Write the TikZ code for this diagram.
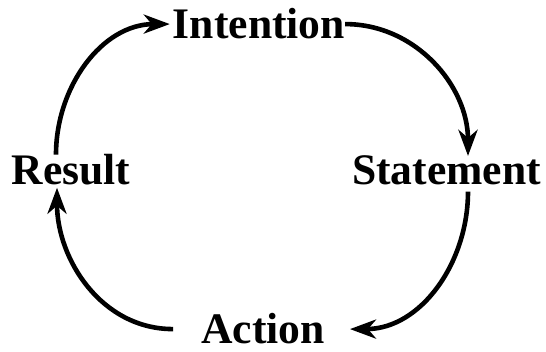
\documentclass[tikz,border=0pt]{standalone}
\usepackage{fontspec}
\setmainfont{Liberation Serif}
\usetikzlibrary{arrows.meta}

\begin{document}
\begin{tikzpicture}[x=1pt, y=-1pt, >={Stealth[length=26pt, width=19pt, inset=8pt]},
    word/.style={inner sep=0pt, anchor=base, font=\fontsize{43.6}{50}\selectfont\bfseries},
    cycle/.style={->, line width=4.6pt}]
    \useasboundingbox (0,0) rectangle (546,352);

    % Stages
    \node[word] (int) at (259, 39) {Intention};
    \node[word] (sta) at (446.5, 185) {Statement};
    \node[word] (act) at (263, 344) {Action};
    \node[word] (res) at (71, 185) {Result};

    % Cycle arrows
    \draw[cycle] ([xshift=-15pt]res.north) to[out=90, in=180] ([xshift=-3pt]int.west);
    \draw[cycle] (int.east) to[out=0, in=90] ([xshift=21.5pt]sta.north);
    \draw[cycle] ([xshift=21.5pt, yshift=-6pt]sta.south) to[out=-90, in=0] ([xshift=25pt]act.east);
    \draw[cycle] ([xshift=-28pt]act.west) to[out=180, in=-90] ([xshift=-14pt, yshift=-2pt]res.south);
\end{tikzpicture}
\end{document}
